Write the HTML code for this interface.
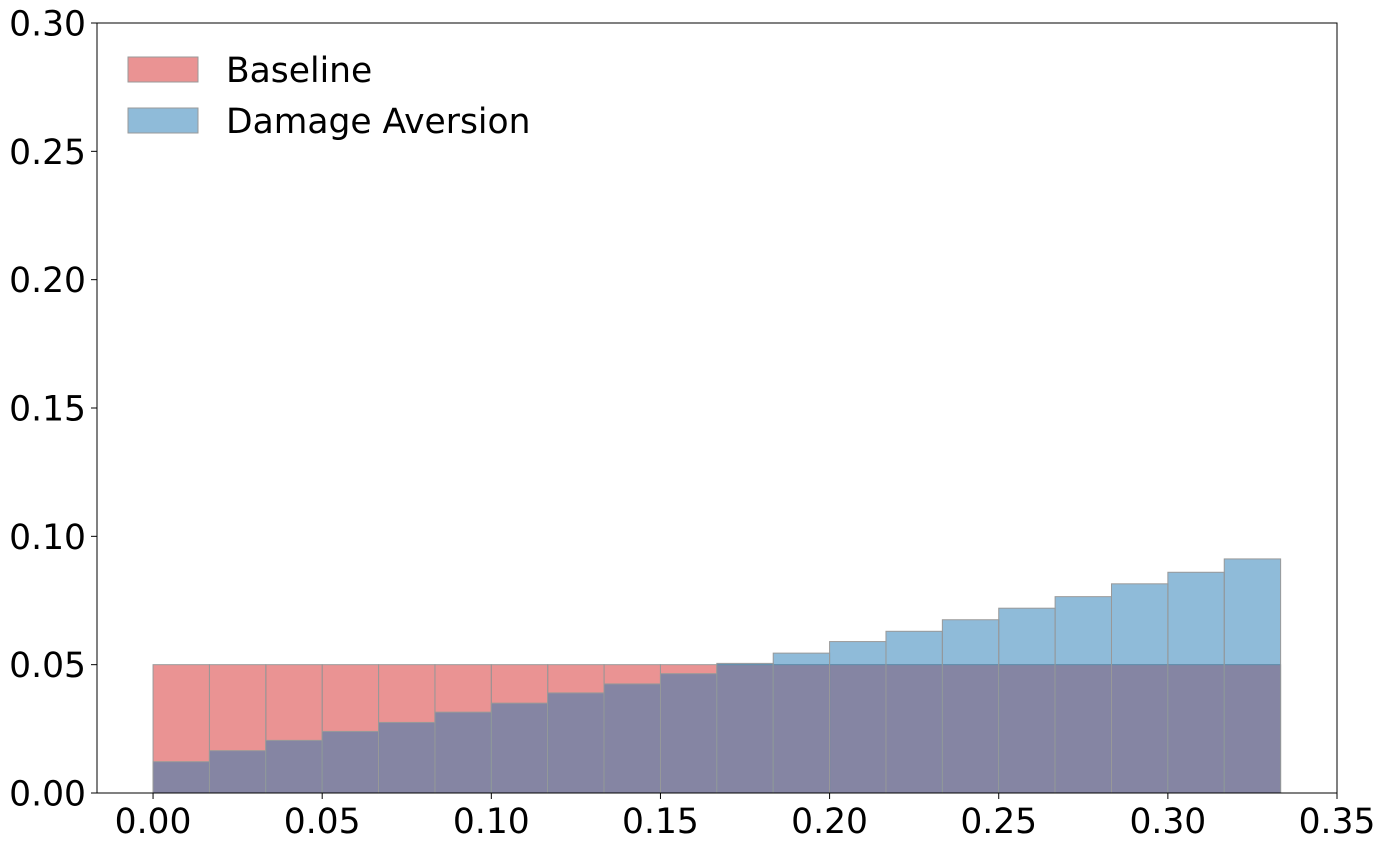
<!DOCTYPE html>
<html><head><meta charset="utf-8"><style>
body{margin:0;background:#fff}
svg text{font-family:"DejaVu Sans","Liberation Sans",sans-serif;fill:#000}
</style></head><body>
<svg id="chart" width="1385" height="847" xmlns="http://www.w3.org/2000/svg"></svg>
<script>
const binEdges=[0,1/60,2/60,3/60,4/60,5/60,6/60,7/60,8/60,9/60,10/60,11/60,12/60,13/60,14/60,15/60,16/60,17/60,18/60,19/60,20/60];
const baselineValues=[0.05,0.05,0.05,0.05,0.05,0.05,0.05,0.05,0.05,0.05,0.05,0.05,0.05,0.05,0.05,0.05,0.05,0.05,0.05,0.05];
const damageValues=[0.0122,0.0165,0.0205,0.024,0.0275,0.0315,0.035,0.039,0.0425,0.0465,0.0505,0.0545,0.059,0.063,0.0675,0.072,0.0765,0.0815,0.086,0.0912];
const xTicks=[0,0.05,0.10,0.15,0.20,0.25,0.30,0.35];
const yTicks=[0,0.05,0.10,0.15,0.20,0.25,0.30];
const NS="http://www.w3.org/2000/svg";
const svg=document.getElementById('chart');
const L=97,R=1337,T=23,B=793;
const xMin=-0.01657,xMax=0.35,yMin=0,yMax=0.30;
const X=v=>L+(v-xMin)/(xMax-xMin)*(R-L);
const Y=v=>B-(v-yMin)/(yMax-yMin)*(B-T);
function mk(tag,attrs){const e=document.createElementNS(NS,tag);for(const k in attrs)e.setAttribute(k,attrs[k]);svg.appendChild(e);return e;}
function bars(vals,color,name){
  vals.forEach((v,i)=>{
    const x0=X(binEdges[i]),x1=X(binEdges[i+1]);
    const r=mk('rect',{x:x0,y:Y(v),width:x1-x0,height:Y(0)-Y(v),fill:color,'fill-opacity':0.5,stroke:'#999','stroke-width':1});
    
    
  });
}
bars(baselineValues,'#d62728','baseline');
bars(damageValues,'#1f77b4','damage-aversion');
const frame=mk('rect',{x:L,y:T,width:R-L,height:B-T,fill:'none',stroke:'#000','stroke-width':1});


xTicks.forEach(t=>{
  const x=X(t);
  mk('line',{x1:x,x2:x,y1:B,y2:B+6,stroke:'#000'});
  const tx=mk('text',{x:x,y:B+40,'font-size':34.5,'text-anchor':'middle'});
  tx.textContent=t.toFixed(2);
  
  
});
yTicks.forEach(t=>{
  const y=Y(t);
  mk('line',{x1:L-6,x2:L,y1:y,y2:y,stroke:'#000'});
  const tx=mk('text',{x:L-11,y:y+12.5,'font-size':34.5,'text-anchor':'end'});
  tx.textContent=t.toFixed(2);
  
  
});
const legend=[['Baseline','#d62728',70],['Damage Aversion','#1f77b4',121]];
legend.forEach(([lab,c,y])=>{
  const r=mk('rect',{x:128,y:y-13,width:70,height:25,fill:c,'fill-opacity':0.5,stroke:'#999'});
  
  
  const t=mk('text',{x:226,y:y+12,'font-size':34.5});
  t.textContent=lab;
  
  
});
</script>
</body></html>
